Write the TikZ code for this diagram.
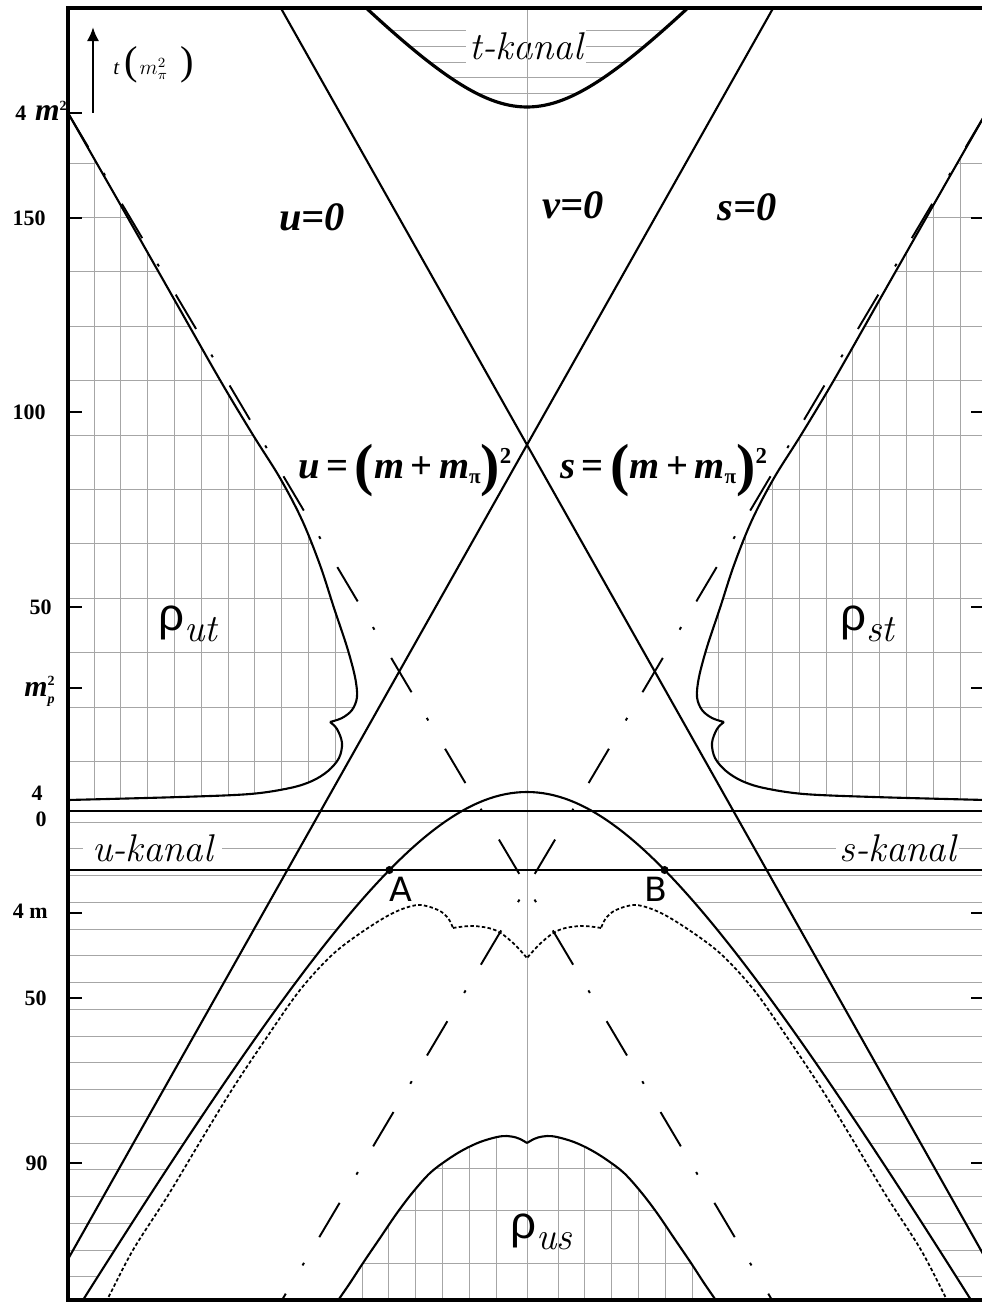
\documentclass[tikz,border=0pt]{standalone}
\usepackage{fontspec}
\newfontfamily\tnr{Liberation Serif}
\newfontfamily\rhof{Liberation Sans}
\newfontfamily\abf{DejaVu Sans}
\usetikzlibrary{arrows.meta}
\newcommand\rholab[1]{{\rhof\fontsize{26}{26}\selectfont ρ}\raisebox{-6.5pt}{\fontsize{22}{22}\selectfont\itshape #1}}
\newcommand\massexpr[1]{{\tnr\bfseries\fontsize{22}{22}\selectfont\itshape #1\upshape\,=\,\raisebox{-3.5pt}{\fontsize{33}{33}\selectfont(}\itshape m\upshape\,+\,\itshape m\upshape\raisebox{-3pt}{\fontsize{12}{12}\selectfont π}\raisebox{-3.5pt}{\fontsize{33}{33}\selectfont)}\raisebox{8pt}{\fontsize{13}{13}\selectfont 2}}}
\newcommand\gridHalf{%
  % rho_ut grid
  \begin{scope}
    \clip plot[smooth,tension=0.55] coordinates {(68,113) (120,204) (170,292) (220,380) (253,435) (280,478) (302,520) (320,565) (334,608) (347,647) (355,677) (357,697) (352,710) (342,718) (330,722)}
      -- plot[smooth,tension=0.55] coordinates {(330,722) (337,729) (342,743) (339,758) (328,771) (312,781) (290,788) (250,794) (180,797) (68,800)} -- (60,800) -- (60,113) -- cycle;
    \foreach \k in {0,...,9} \draw[gridline] ({94+26.8*\k},100) -- ({94+26.8*\k},810);
    \foreach \k in {0,...,11} \draw[gridline] (60,{163+54.4*\k}) -- (400,{163+54.4*\k});
  \end{scope}
  % rho_us grid
  \begin{scope}
    \clip plot[smooth,tension=0.55] coordinates {(327,1318) (337,1302) (350,1283) (363,1263) (380,1238) (397,1213) (413,1192) (430,1173) (447,1160) (463,1150) (480,1142) (497,1137) (507,1136) (516,1137.5) (522,1140) (527,1143)} -- (527,1318) -- cycle;
    \foreach \k in {10,...,15} \draw[gridline] ({94+26.8*\k},1130) -- ({94+26.8*\k},1310);
    \foreach \yy in {1168,1210,1263} \draw[gridline] (320,\yy) -- (527,\yy);
  \end{scope}
  % u-channel hatching
  \begin{scope}
    \clip (60,811) -- plot[domain=-65:-480,samples=60,variable=\q] ({527+\q},{abY(\q)}) -- (60,1340) -- cycle;
    \foreach \k in {0,...,18} \draw[gridline] (60,{822+26.75*\k}) -- (527,{822+26.75*\k});
  \end{scope}
  % t-channel hatching
  \begin{scope}
    \clip (527,0) -- plot[domain=0:-175,samples=40,variable=\q] ({527+\q},{tY(\q)}) -- (300,0) -- cycle;
    \foreach \yy in {30,46,62,77,93} \draw[gridline] (300,\yy) -- (527,\yy);
  \end{scope}
}
\newcommand\inkHalf{%
  \draw[curve] plot[smooth,tension=0.55] coordinates {(68,113) (120,204) (170,292) (220,380) (253,435) (280,478) (302,520) (320,565) (334,608) (347,647) (355,677) (357,697) (352,710) (342,718) (330,722)}
      plot[smooth,tension=0.55] coordinates {(330,722) (337,729) (342,743) (339,758) (328,771) (312,781) (290,788) (250,794) (180,797) (68,800)};
  \draw[curve] plot[smooth,tension=0.55] coordinates {(327,1318) (337,1302) (350,1283) (363,1263) (380,1238) (397,1213) (413,1192) (430,1173) (447,1160) (463,1150) (480,1142) (497,1137) (507,1136) (516,1137.5) (522,1140) (527,1143)};
  \draw[dotcurve] plot[smooth,tension=0.55] coordinates {(100,1312) (107,1300) (133,1250) (167,1197) (200,1142) (233,1088) (267,1037) (300,990) (332,955) (362,932) (393,913) (418,905) (438,910) (448,918) (453,928)};
  \draw[dotcurve] plot[smooth,tension=0.6] coordinates {(453,928) (473,926) (495,930) (512,942) (527,958)};
  \draw[curve] plot[domain=-480:0,samples=90,variable=\q] ({527+\q},{abY(\q)});
  \draw[tcurve] plot[domain=-175:0,samples=40,variable=\q] ({527+\q},{tY(\q)});
  \draw[dashdot] (68,113) -- (772,1300);
  \draw[curve] (280.8,8) -- (1009,1300);
}
\begin{document}
\begin{tikzpicture}[x=0.02cm,y=-0.02cm,
  declare function={abY(\q)=472+100*sqrt(10.24+2.9584*(\q/100)^2); tY(\q)=207-10*sqrt(100+1.1449*(\q/10)^2);},
  gridline/.style={draw=black!35, line width=0.45pt},
  curve/.style={line width=1.2pt, line join=round},
  tcurve/.style={line width=1.8pt},
  frameline/.style={line width=1.8pt},
  dashdot/.style={line width=1.1pt, dash pattern=on 22.7pt off 17pt on 1.7pt off 18.7pt},
  dotcurve/.style={line width=1pt, dash pattern=on 2pt off 1.3pt},
  kanal/.style={font=\fontsize{22}{22}\selectfont\itshape, inner sep=2pt, anchor=base west},
  zerolab/.style={font=\tnr\bfseries\itshape\fontsize{23}{23}\selectfont, inner sep=0pt},
  axlab/.style={font=\tnr\bfseries\fontsize{12.5}{12.5}\selectfont, anchor=base east, inner sep=0pt},
  axtick/.style={line width=0.9pt},
  dotnode/.style={circle, fill=black, inner sep=0pt, minimum size=4.6pt},
  ablab/.style={font=\abf\fontsize{19}{19}\selectfont, inner sep=0pt}
]
\useasboundingbox (0,0) rectangle (982,1304);
\begin{scope}
  \clip (68,8) rectangle (982,1300);
  \gridHalf
  \begin{scope}[shift={(1054,0)},xscale=-1] \gridHalf \end{scope}
  \node[kanal,fill=white,inner xsep=5pt] (ukanal) at (83,861) {u-kanal};
  \node[kanal,fill=white] (skanal) at (836,861) {s-kanal};
  \node[kanal,fill=white] (tkanal) at (466,60) {t-kanal};
  \draw[gridline] (527,8) -- (527,1300);
  \inkHalf
  \begin{scope}[shift={(1054,0)},xscale=-1] \inkHalf \end{scope}
  \draw[curve] (68,811) -- (982,811);
  \draw[curve] (68,870) -- (982,870);
\end{scope}
% frame
\draw[frameline] (982,8) -- (68,8) -- (68,1300) -- (982,1300);
% ticks
\foreach \yy in {113,218,412,607,688,913,998,1163} \draw[axtick] (68,\yy) -- (82,\yy);
\foreach \yy in {218,412,607,688,913,998,1163} \draw[axtick] (971,\yy) -- (982,\yy);
% points A, B
\node[dotnode] (A) at (389.4,870) {};
\node[dotnode] (B) at (664.6,870) {};
\node[ablab] (Alab) at (401,889) {A};
\node[ablab] (Blab) at (656,889) {B};
% axis labels
\node[axlab] (l4m2) at (67,121) {4\hspace{5pt}{\itshape\fontsize{18}{18}\selectfont m}\raisebox{6pt}{\fontsize{8}{8}\selectfont 2}};
\node[axlab] (l150) at (46,225) {150};
\node[axlab] (l100) at (46,419) {100};
\node[axlab] (l50a) at (52,614) {50};
\node[axlab] (lmp) at (55,696) {{\itshape\fontsize{17}{17}\selectfont m}\rlap{\raisebox{-4pt}{\fontsize{8}{8}\selectfont\itshape p}}\raisebox{6pt}{\fontsize{8}{8}\selectfont 2}};
\node[axlab] (l4) at (43,800) {4};
\node[axlab] (l0) at (47,826) {0};
\node[axlab] (l4m) at (48,918) {4 m};
\node[axlab] (l50b) at (47,1005) {50};
\node[axlab] (l90) at (48,1170) {90};
% t axis arrow and label
\coordinate (arrbot) at (93,113);
\coordinate (arrtop) at (93,27);
\draw[line width=1.5pt,-{Latex[length=8pt,width=7pt]}] (arrbot) -- (arrtop);
\node[inner sep=0pt, anchor=west] (tlab) at (113,65) {{\tnr\itshape\fontsize{12}{12}\selectfont t}\hspace{3pt}{\tnr\fontsize{23}{23}\selectfont (}\hspace{1pt}{\fontsize{12}{12}\selectfont $m_\pi^2$}\hspace{7pt}{\tnr\fontsize{23}{23}\selectfont )}};
% zero lines labels
\node[zerolab] (u0) at (312,217) {u=0};
\node[zerolab] (v0) at (573,205) {v=0};
\node[zerolab] (s0) at (747,207) {s=0};
% threshold labels
\node[inner sep=0pt, anchor=base west] (uthr) at (298,478) {\massexpr{u}};
\node[inner sep=0pt, anchor=base west] (sthr) at (560,478) {\massexpr{s}};
% spectral function labels
\node[inner sep=0pt, anchor=base west] (rut) at (158,630) {\rholab{ut}};
\node[inner sep=0pt, anchor=base west] (rst) at (840,630) {\rholab{st}};
\node[inner sep=0pt, anchor=base west] (rus) at (510,1238) {\rholab{us}};
\end{tikzpicture}
\end{document}
